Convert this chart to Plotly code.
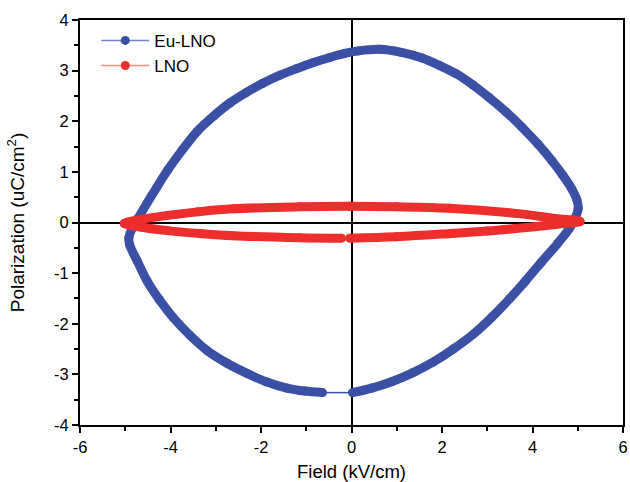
import plotly.graph_objects as go

# Eu-LNO hysteresis loop (Field kV/cm, Polarization uC/cm^2)
eu_x = [-0.64, -1.03, -1.43, -1.87, -2.31, -2.75, -3.19, -3.58, -3.94, -4.25, -4.52, -4.74,
        -4.90, -4.92, -4.85, -4.72, -4.52, -4.30, -4.05, -3.75, -3.41, -3.05, -2.69, -2.32,
        -1.96, -1.58, -1.21, -0.84, -0.48, -0.15, 0.15, 0.62, 1.10, 1.56, 1.95, 2.31,
        2.68, 3.04, 3.42, 3.77, 4.12, 4.43, 4.68, 4.87, 4.98, 5.01, 4.95, 4.80,
        4.55, 4.20, 3.85, 3.50, 3.10, 2.70, 2.25, 1.80, 1.35, 0.90, 0.45, 0.02]
eu_y = [-3.36, -3.33, -3.27, -3.15, -2.98, -2.78, -2.53, -2.22, -1.88, -1.52, -1.15, -0.75,
        -0.45, -0.30, -0.12, 0.08, 0.38, 0.70, 1.05, 1.42, 1.80, 2.10, 2.36, 2.57,
        2.75, 2.91, 3.04, 3.16, 3.26, 3.34, 3.39, 3.42, 3.36, 3.25, 3.10, 2.94,
        2.72, 2.47, 2.18, 1.88, 1.55, 1.22, 0.92, 0.66, 0.45, 0.28, 0.10, -0.14,
        -0.42, -0.78, -1.15, -1.50, -1.87, -2.20, -2.50, -2.76, -2.97, -3.14, -3.27, -3.36]

# LNO hysteresis loop
lno_x = [-0.04, 1.00, 2.16, 3.00, 3.63, 4.50, 5.05, 4.50, 3.63, 2.16, 1.00, -0.04,
         -1.15, -2.62, -3.40, -4.07, -4.60, -5.02, -4.60, -4.07, -3.30, -2.62, -1.15, -0.22]
lno_y = [-0.31, -0.28, -0.22, -0.17, -0.12, -0.04, 0.02, 0.08, 0.18, 0.28, 0.31, 0.32,
         0.31, 0.27, 0.21, 0.14, 0.07, -0.02, -0.10, -0.16, -0.22, -0.26, -0.30, -0.31]

series_names = ["Eu-LNO", "LNO"]
x_tickvals = [-6, -4, -2, 0, 2, 4, 6]
x_ticktext = ["-6", "-4", "-2", "0", "2", "4", "6"]
y_tickvals = [-4, -3, -2, -1, 0, 1, 2, 3, 4]
y_ticktext = ["-4", "-3", "-2", "-1", "0", "1", "2", "3", "4"]

blue = "rgb(57,80,165)"
red = "rgb(238,45,45)"
blue_light = "rgb(110,130,200)"
red_light = "rgb(245,140,140)"

fig = go.Figure()

# thin connector across the gap of the Eu-LNO loop
fig.add_trace(go.Scatter(x=[eu_x[-1], eu_x[0]], y=[eu_y[-1], eu_y[0]], mode="lines",
                         line=dict(color=blue, width=1.5), showlegend=False, hoverinfo="skip"))
fig.add_trace(go.Scatter(x=eu_x, y=eu_y, mode="lines+markers",
                         line=dict(color=blue, width=9, shape="spline", smoothing=0.8),
                         marker=dict(color=blue, size=9), showlegend=False))
fig.add_trace(go.Scatter(x=lno_x, y=lno_y, mode="lines+markers",
                         line=dict(color=red, width=9, shape="spline", smoothing=1),
                         marker=dict(color=red, size=9), showlegend=False))

# legend entries
fig.add_trace(go.Scatter(x=[None], y=[None], mode="lines+markers", name=series_names[0],
                         line=dict(color=blue_light, width=1.5), marker=dict(color=blue, size=9)))
fig.add_trace(go.Scatter(x=[None], y=[None], mode="lines+markers", name=series_names[1],
                         line=dict(color=red_light, width=1.5), marker=dict(color=red, size=9)))

axis_common = dict(showline=True, linecolor="black", linewidth=2, mirror=True,
                   ticks="outside", ticklen=6, tickwidth=2, tickcolor="black",
                   showgrid=False, zeroline=True, zerolinecolor="black", zerolinewidth=2,
                   tickfont=dict(size=16.5, color="black"), automargin=False)

fig.update_xaxes(range=[-6, 6], tickmode="array", tickvals=x_tickvals, ticktext=x_ticktext,
                 minor=dict(dtick=1, tick0=-6, ticks="outside", ticklen=4, tickwidth=1.5, tickcolor="black"),
                 title=dict(text="Field (kV/cm)", font=dict(size=18.5, color="black"), standoff=12),
                 **axis_common)
fig.update_yaxes(range=[-4, 4], tickmode="array", tickvals=y_tickvals, ticktext=y_ticktext,
                 minor=dict(dtick=0.5, tick0=-4, ticks="outside", ticklen=4, tickwidth=1.5, tickcolor="black"),
                 title=dict(text="Polarization (uC/cm<sup>2</sup>)", font=dict(size=19, color="black"), standoff=24),
                 **axis_common)

fig.update_layout(
    width=630, height=482,
    margin=dict(l=80, r=7, t=20, b=57),
    paper_bgcolor="white", plot_bgcolor="white",
    font=dict(family="Liberation Sans, Arial, sans-serif", color="black"),
    legend=dict(x=0.03, y=0.993, xanchor="left", yanchor="top", bgcolor="rgba(0,0,0,0)",
                font=dict(size=17), tracegroupgap=0, itemwidth=48),
)

fig.write_html("out.html", config={"displayModeBar": False},
               post_script="document.body.style.margin='0';document.body.style.overflow='hidden';")
